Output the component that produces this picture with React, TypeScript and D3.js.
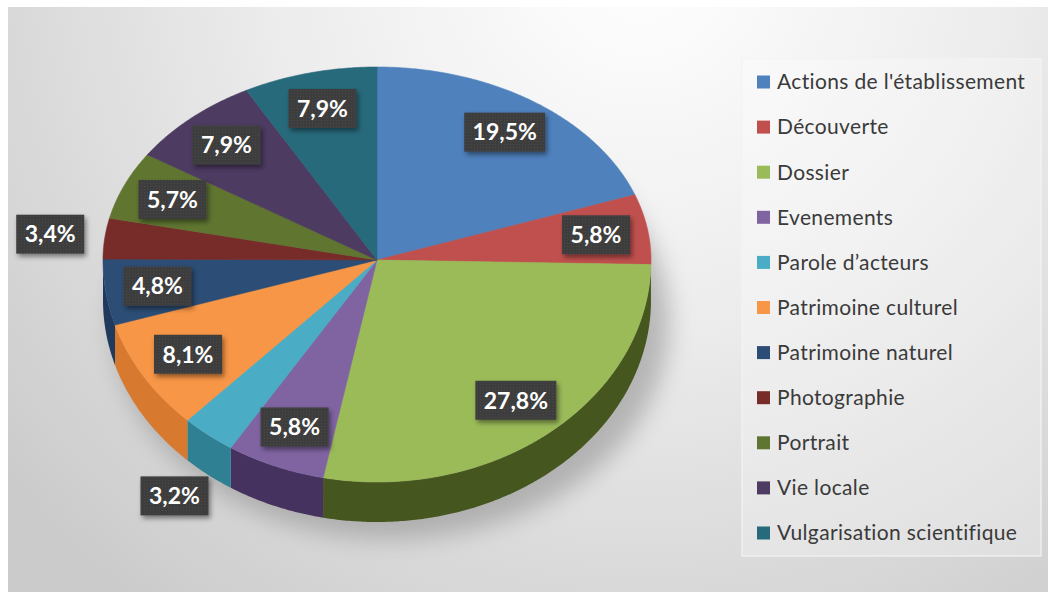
import React from 'react';
import * as d3 from 'd3';

const categories = [
  "Actions de l'établissement",
  'Découverte',
  'Dossier',
  'Evenements',
  'Parole d’acteurs',
  'Patrimoine culturel',
  'Patrimoine naturel',
  'Photographie',
  'Portrait',
  'Vie locale',
  'Vulgarisation scientifique',
];
const values = [19.5, 5.8, 27.8, 5.8, 3.2, 8.1, 4.8, 3.4, 5.7, 7.9, 7.9];
const topColors = ['#4f81bd', '#c0504d', '#9bbb59', '#8064a2', '#4bacc6', '#f79646', '#2c4d75', '#772c2a', '#5f7530', '#4d3b62', '#276a7c'];
const sideColors = ['#3a6296', '#93393a', '#46561f', '#46325f', '#2f8093', '#d7792f', '#1f3a5c', '#5a1f1e', '#46581f', '#3a2c4b', '#1b5261'];

const W = 1048;
const H = 592;

export default function App() {
  const cx = 377, cy = 260, rx = 274, ryT = 193, ryB = 222, depth = 40;
  const proj = (a: number, z = 0): [number, number] => {
    const c = Math.cos(a);
    return [cx + rx * Math.sin(a), cy - (c >= 0 ? ryT : ryB) * c + z];
  };
  const arcPts = (a0: number, a1: number, z: number) => {
    const n = Math.max(2, Math.ceil(Math.abs(a1 - a0) / (Math.PI / 360)));
    return d3.range(n + 1).map((i) => proj(a0 + ((a1 - a0) * i) / n, z));
  };
  const line = d3.line();
  const arcs = d3.pie<number>().sort(null).value((d) => d).startAngle(0).endAngle(2 * Math.PI)(values);

  const sides = arcs.map((a, i) => {
    const s = Math.max(a.startAngle, Math.PI / 2);
    const e = Math.min(a.endAngle, (3 * Math.PI) / 2);
    if (e <= s) return null;
    const pts = [...arcPts(s, e, 0), ...arcPts(e, s, depth)];
    return <path key={'s' + i} d={line(pts) + 'Z'} fill={sideColors[i]} />;
  });

  const tops = arcs.map((a, i) => {
    const pts = [[cx, cy] as [number, number], ...arcPts(a.startAngle, a.endAngle, 0)];
    return <path key={'t' + i} d={line(pts) + 'Z'} fill={topColors[i]} stroke={topColors[i]} strokeWidth={0.6} />;
  });

  const fmt = d3.format('.1f');
  const labels = arcs.map((a, i) => {
    const mid = (a.startAngle + a.endAngle) / 2;
    const outside = values[i] < 4;
    const f = outside ? 1.2 : 0.81;
    const c = Math.cos(mid);
    const x = cx + rx * Math.sin(mid) * f;
    let y = cy - (c >= 0 ? ryT : ryB) * c * f;
    if (outside && c < 0) y += depth * 0.65;
    const txt = fmt(values[i]).replace('.', ',') + '%';
    const bw = txt.length * 13 + 16;
    const bh = 39;
    return (
      <g key={'l' + i}>
        <rect x={x - bw / 2} y={y - bh / 2} width={bw} height={bh} fill="url(#dots)" filter="url(#lshadow)" />
        <text x={x} y={y} dy="0.36em" textAnchor="middle" fill="#ffffff" fontFamily="Lato, 'Open Sans', sans-serif" fontWeight={700} fontSize={23}>
          {txt}
        </text>
      </g>
    );
  });

  const legendX = 757;
  const legendY0 = 82;
  const legendStep = 45.1;

  return (
    <svg width={W} height={H} style={{ position: 'absolute', left: 0, top: 0 }}>
      <defs>
        <radialGradient id="bg" gradientUnits="userSpaceOnUse" cx={640} cy={-40} r={820}>
          <stop offset="0" stopColor="#ffffff" />
          <stop offset="0.45" stopColor="#ececec" />
          <stop offset="1" stopColor="#cbcbcb" />
        </radialGradient>
        <filter id="pshadow" x="-30%" y="-30%" width="160%" height="160%">
          <feGaussianBlur stdDeviation="12" />
        </filter>
        <filter id="lshadow" x="-30%" y="-30%" width="160%" height="160%">
          <feDropShadow dx="2" dy="3" stdDeviation="2.5" floodColor="#000" floodOpacity="0.45" />
        </filter>
        <pattern id="dots" width="3" height="3" patternUnits="userSpaceOnUse">
          <rect width="3" height="3" fill="#3e3e3e" />
          <rect width="1" height="1" fill="#4a4a4a" />
        </pattern>
      </defs>
      <rect x={0} y={0} width={W} height={H} fill="#ffffff" />
      <rect x={8} y={7} width={W - 8} height={H - 7} fill="url(#bg)" />

      <ellipse cx={cx + 14} cy={cy + depth + 22} rx={rx + 4} ry={ryB - 5} fill="#8a8a8a" opacity={0.55} filter="url(#pshadow)" />
      {sides}
      {tops}
      {labels}

      <rect x={742} y={59} width={299} height={497} fill="#ffffff" fillOpacity={0.28} stroke="#f4f4f4" strokeWidth={1.2} />
      {categories.map((c, i) => (
        <g key={'g' + i} transform={`translate(${legendX},${legendY0 + i * legendStep})`}>
          <rect x={0} y={-6.5} width={13} height={13} fill={topColors[i]} />
          <text x={20} y={0} dy="0.35em" fill="#3a3a3a" fontFamily="Lato, 'Open Sans', sans-serif" fontSize={21} letterSpacing={0.35}>
            {c}
          </text>
        </g>
      ))}
    </svg>
  );
}
